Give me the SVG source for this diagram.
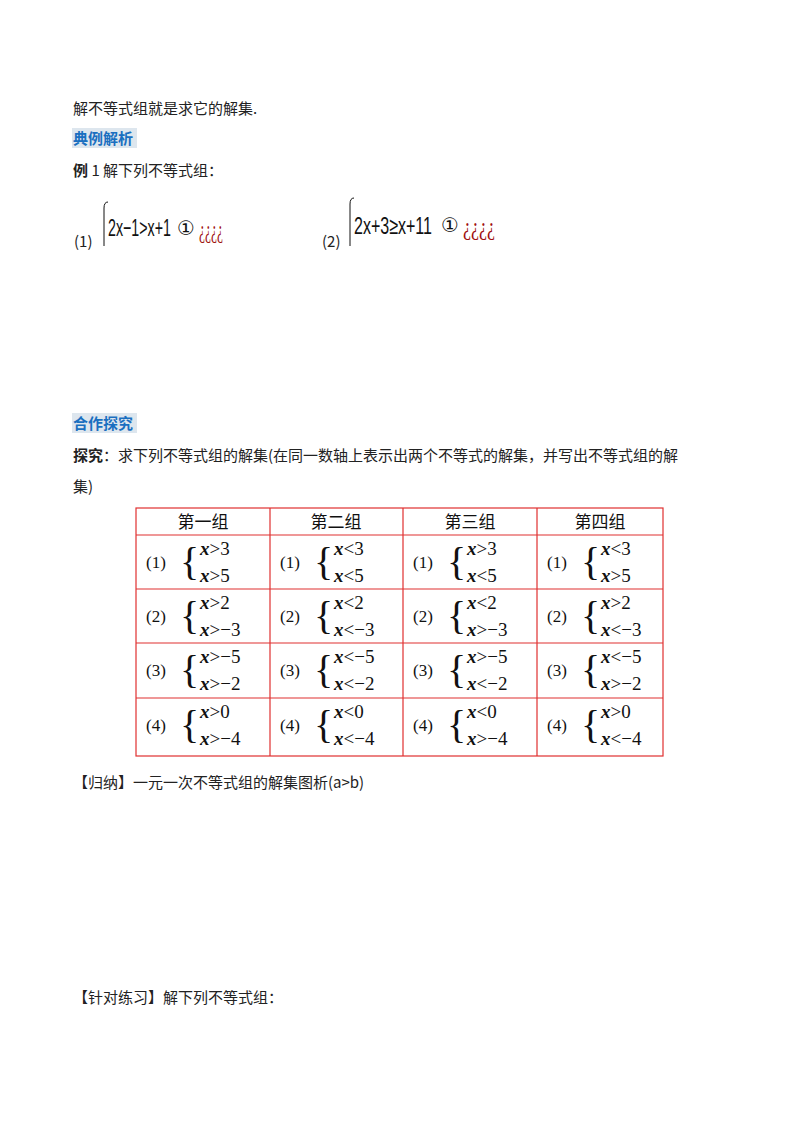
<svg xmlns="http://www.w3.org/2000/svg" width="800" height="1132" viewBox="0 0 800 1132">
<style>
.t{font-family:"Noto Sans CJK SC","Liberation Serif",serif;font-size:15px;fill:#222}
.b{font-weight:bold}
.h{font-family:"Noto Sans CJK SC",sans-serif;font-size:15px;font-weight:bold;fill:#1a6fc0}
.m{font-family:"Liberation Sans",sans-serif;font-size:24px;fill:#111}
.o{font-family:"DejaVu Sans","Noto Sans CJK SC",sans-serif;font-size:20px;fill:#111}
.r{font-family:"Liberation Serif",serif;font-size:26px;fill:#a01010}
.g{stroke:#e03030;stroke-width:1.2;fill:none}
.c{font-family:"Noto Sans CJK SC",sans-serif;font-size:17px;fill:#111}
.e{font-family:"Liberation Serif",serif;font-size:19px;fill:#111}
.x{font-style:italic;font-weight:bold}
.br{font-family:"Liberation Serif",serif;font-size:40px;fill:#111}
.n{font-family:"Liberation Serif",serif;font-size:17px;fill:#111}
</style>
<rect width="800" height="1132" fill="#fff"/>
<text class="t" x="73" y="114">解不等式组就是求它的解集.</text>
<rect x="72" y="128" width="65" height="20" fill="#dde6ee"/>
<text class="h" x="73" y="144">典例解析</text>
<text class="t" x="73" y="176"><tspan class="b">例</tspan> 1  解下列不等式组：</text>
<text class="t" x="74" y="247" font-size="13">(1)</text>
<path d="M108 202 Q104 202 104 208 L104 246" stroke="#111" fill="none"/>
<text class="m" x="108" y="236" textLength="63" lengthAdjust="spacingAndGlyphs">2x−1&gt;x+1</text>
<text class="o" x="177" y="235">①</text>
<text class="r" x="199" y="238" textLength="24" lengthAdjust="spacingAndGlyphs">¿¿¿¿</text>
<text class="t" x="322" y="247" font-size="13">(2)</text>
<path d="M354 198 Q350 198 350 204 L350 246" stroke="#111" fill="none"/>
<text class="m" x="354" y="234" textLength="78" lengthAdjust="spacingAndGlyphs">2x+3≥x+11</text>
<text class="o" x="441" y="232">①</text>
<text class="r" x="463" y="235" textLength="32" lengthAdjust="spacingAndGlyphs">¿¿¿¿</text>
<rect x="72" y="413" width="65" height="20" fill="#dde6ee"/>
<text class="h" x="73" y="429">合作探究</text>
<text class="t" x="73" y="461"><tspan class="b">探究</tspan>：求下列不等式组的解集(在同一数轴上表示出两个不等式的解集，并写出不等式组的解</text>
<text class="t" x="73" y="492">集)</text>
<g id="table">
<rect class="g" x="136" y="508" width="527" height="248"/>
<path class="g" d="M136 535H663M136 589H663M136 643H663M136 698H663M270 508V756M403 508V756M537 508V756"/>
<text class="c" x="203" y="528" text-anchor="middle">第一组</text>
<text class="c" x="336" y="528" text-anchor="middle">第二组</text>
<text class="c" x="470" y="528" text-anchor="middle">第三组</text>
<text class="c" x="600" y="528" text-anchor="middle">第四组</text>
</g>
<g id="cells">
<g transform="translate(136,535)">
<text class="n" x="10" y="33">(1)</text><text class="br" x="44" y="40">{</text>
<text class="e" x="64" y="20"><tspan class="x">x</tspan>&gt;3</text><text class="e" x="64" y="47"><tspan class="x">x</tspan>&gt;5</text></g>
<g transform="translate(270,535)">
<text class="n" x="10" y="33">(1)</text><text class="br" x="44" y="40">{</text>
<text class="e" x="64" y="20"><tspan class="x">x</tspan>&lt;3</text><text class="e" x="64" y="47"><tspan class="x">x</tspan>&lt;5</text></g>
<g transform="translate(403,535)">
<text class="n" x="10" y="33">(1)</text><text class="br" x="44" y="40">{</text>
<text class="e" x="64" y="20"><tspan class="x">x</tspan>&gt;3</text><text class="e" x="64" y="47"><tspan class="x">x</tspan>&lt;5</text></g>
<g transform="translate(537,535)">
<text class="n" x="10" y="33">(1)</text><text class="br" x="44" y="40">{</text>
<text class="e" x="64" y="20"><tspan class="x">x</tspan>&lt;3</text><text class="e" x="64" y="47"><tspan class="x">x</tspan>&gt;5</text></g>

<g transform="translate(136,589)">
<text class="n" x="10" y="33">(2)</text><text class="br" x="44" y="40">{</text>
<text class="e" x="64" y="20"><tspan class="x">x</tspan>&gt;2</text><text class="e" x="64" y="47"><tspan class="x">x</tspan>&gt;−3</text></g>
<g transform="translate(270,589)">
<text class="n" x="10" y="33">(2)</text><text class="br" x="44" y="40">{</text>
<text class="e" x="64" y="20"><tspan class="x">x</tspan>&lt;2</text><text class="e" x="64" y="47"><tspan class="x">x</tspan>&lt;−3</text></g>
<g transform="translate(403,589)">
<text class="n" x="10" y="33">(2)</text><text class="br" x="44" y="40">{</text>
<text class="e" x="64" y="20"><tspan class="x">x</tspan>&lt;2</text><text class="e" x="64" y="47"><tspan class="x">x</tspan>&gt;−3</text></g>
<g transform="translate(537,589)">
<text class="n" x="10" y="33">(2)</text><text class="br" x="44" y="40">{</text>
<text class="e" x="64" y="20"><tspan class="x">x</tspan>&gt;2</text><text class="e" x="64" y="47"><tspan class="x">x</tspan>&lt;−3</text></g>

<g transform="translate(136,643)">
<text class="n" x="10" y="33">(3)</text><text class="br" x="44" y="40">{</text>
<text class="e" x="64" y="20"><tspan class="x">x</tspan>&gt;−5</text><text class="e" x="64" y="47"><tspan class="x">x</tspan>&gt;−2</text></g>
<g transform="translate(270,643)">
<text class="n" x="10" y="33">(3)</text><text class="br" x="44" y="40">{</text>
<text class="e" x="64" y="20"><tspan class="x">x</tspan>&lt;−5</text><text class="e" x="64" y="47"><tspan class="x">x</tspan>&lt;−2</text></g>
<g transform="translate(403,643)">
<text class="n" x="10" y="33">(3)</text><text class="br" x="44" y="40">{</text>
<text class="e" x="64" y="20"><tspan class="x">x</tspan>&gt;−5</text><text class="e" x="64" y="47"><tspan class="x">x</tspan>&lt;−2</text></g>
<g transform="translate(537,643)">
<text class="n" x="10" y="33">(3)</text><text class="br" x="44" y="40">{</text>
<text class="e" x="64" y="20"><tspan class="x">x</tspan>&lt;−5</text><text class="e" x="64" y="47"><tspan class="x">x</tspan>&gt;−2</text></g>

<g transform="translate(136,698)">
<text class="n" x="10" y="33">(4)</text><text class="br" x="44" y="40">{</text>
<text class="e" x="64" y="20"><tspan class="x">x</tspan>&gt;0</text><text class="e" x="64" y="47"><tspan class="x">x</tspan>&gt;−4</text></g>
<g transform="translate(270,698)">
<text class="n" x="10" y="33">(4)</text><text class="br" x="44" y="40">{</text>
<text class="e" x="64" y="20"><tspan class="x">x</tspan>&lt;0</text><text class="e" x="64" y="47"><tspan class="x">x</tspan>&lt;−4</text></g>
<g transform="translate(403,698)">
<text class="n" x="10" y="33">(4)</text><text class="br" x="44" y="40">{</text>
<text class="e" x="64" y="20"><tspan class="x">x</tspan>&lt;0</text><text class="e" x="64" y="47"><tspan class="x">x</tspan>&gt;−4</text></g>
<g transform="translate(537,698)">
<text class="n" x="10" y="33">(4)</text><text class="br" x="44" y="40">{</text>
<text class="e" x="64" y="20"><tspan class="x">x</tspan>&gt;0</text><text class="e" x="64" y="47"><tspan class="x">x</tspan>&lt;−4</text></g>
</g>
<text class="t" x="73" y="788">【归纳】一元一次不等式组的解集图析(a&gt;b)</text>
<text class="t" x="73" y="1003">【针对练习】解下列不等式组：</text>
</svg>
